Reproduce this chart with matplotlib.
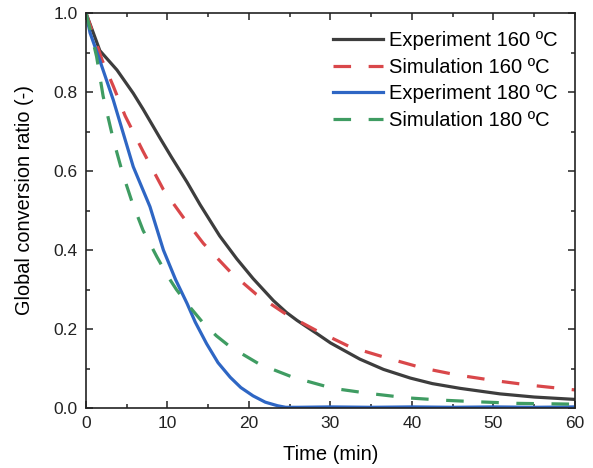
import matplotlib
matplotlib.use('Agg')
import matplotlib.pyplot as plt
from matplotlib.ticker import MultipleLocator

plt.rcParams['font.family'] = ['Liberation Sans', 'DejaVu Sans']

# Experiment 160 C
t_exp160 = [0, 0.9, 1.7, 3.8, 5.8, 7.0, 9.1, 10.5, 12.4, 14.0, 16.4, 18.5, 20.5, 23.0,
            24.6, 25.9, 28.3, 30.0, 33.6, 36.5, 39.8, 42.5, 45.9, 50.8, 55.0, 60.0]
y_exp160 = [1.0, 0.95, 0.905, 0.856, 0.797, 0.757, 0.683, 0.635, 0.572, 0.515, 0.436, 0.378,
            0.328, 0.272, 0.242, 0.222, 0.189, 0.165, 0.124, 0.098, 0.076, 0.062, 0.050,
            0.036, 0.028, 0.022]

# Simulation 160 C
t_sim160 = [0, 1.0, 2.0, 3.35, 4.8, 7.0, 9.5, 11.9, 14.4, 17.7, 20.9, 24.6, 28.3, 32.4,
            36.9, 41.4, 45.5, 50.0, 54.5, 60.0]
y_sim160 = [1.0, 0.94, 0.88, 0.815, 0.74, 0.65, 0.553, 0.484, 0.417, 0.345, 0.288, 0.237,
            0.196, 0.155, 0.127, 0.101, 0.084, 0.070, 0.058, 0.046]

# Experiment 180 C
t_exp180 = [0, 0.5, 1.7, 3.35, 5.8, 7.85, 9.5, 11.0, 12.4, 13.4, 14.8, 16.2, 17.7, 19.0,
            20.5, 22.0, 23.5, 24.5, 26, 30, 35, 40, 45, 50, 55, 60]
y_exp180 = [1.0, 0.95, 0.88, 0.78, 0.611, 0.51, 0.40, 0.325, 0.265, 0.218, 0.163, 0.115,
            0.078, 0.052, 0.031, 0.015, 0.006, 0.002, 0.002, 0.003, 0.002, 0.003, 0.002,
            0.003, 0.002, 0.003]

# Simulation 180 C
t_sim180 = [0, 0.5, 1.3, 2.1, 3.35, 4.5, 5.6, 7.0, 8.7, 10.0, 11.1, 12.5, 14.4, 16.0,
            17.7, 21.3, 25.4, 30.3, 34.8, 39.4, 43.8, 48.0, 52.9, 60.0]
y_sim180 = [1.0, 0.96, 0.89, 0.79, 0.68, 0.594, 0.525, 0.45, 0.383, 0.335, 0.30, 0.262,
            0.215, 0.183, 0.155, 0.111, 0.078, 0.050, 0.037, 0.026, 0.020, 0.016, 0.012,
            0.010]

labels = ['Experiment 160 ºC', 'Simulation 160 ºC', 'Experiment 180 ºC', 'Simulation 180 ºC']

fig = plt.figure(figsize=(5.93, 4.68), dpi=100)
ax = fig.add_axes([0.145, 0.128, 0.8246, 0.844])

lw = 2.3
ax.plot(t_exp160, y_exp160, color='#3d3d3d', lw=lw, label=labels[0])
ax.plot(t_sim160, y_sim160, color='#d9474a', lw=lw, ls=(0, (5.5, 5.5)), label=labels[1])
ax.plot(t_exp180, y_exp180, color='#2e66c4', lw=lw, label=labels[2])
ax.plot(t_sim180, y_sim180, color='#3f9c62', lw=lw, ls=(0, (5.5, 5.5)), label=labels[3])

ax.set_xlim(0, 60)
ax.set_ylim(0, 1.0)
ax.xaxis.set_major_locator(MultipleLocator(10))
ax.xaxis.set_minor_locator(MultipleLocator(5))
ax.yaxis.set_major_locator(MultipleLocator(0.2))
ax.yaxis.set_minor_locator(MultipleLocator(0.1))
ax.yaxis.set_major_formatter(plt.FormatStrFormatter('%.1f'))

ax.tick_params(which='both', direction='in', top=True, right=True, width=1.1,
               labelsize=12.5, colors='#222222')
ax.tick_params(which='major', length=5, pad=6)
ax.tick_params(which='minor', length=3)
for s in ax.spines.values():
    s.set_linewidth(1.2)
    s.set_color('#222222')

ax.set_xlabel('Time (min)', fontsize=14.5, labelpad=10)
ax.set_ylabel('Global conversion ratio (-)', fontsize=14.3)
ax.yaxis.set_label_coords(-0.106, 0.528)

ax.legend(loc='upper right', bbox_to_anchor=(558 / 593, 1 - 31 / 468),
          bbox_transform=fig.transFigure, frameon=False, fontsize=14.5,
          handlelength=2.5, handletextpad=0.3, labelspacing=0.38,
          borderaxespad=0, borderpad=0)

fig.savefig('out.png', dpi=100)
